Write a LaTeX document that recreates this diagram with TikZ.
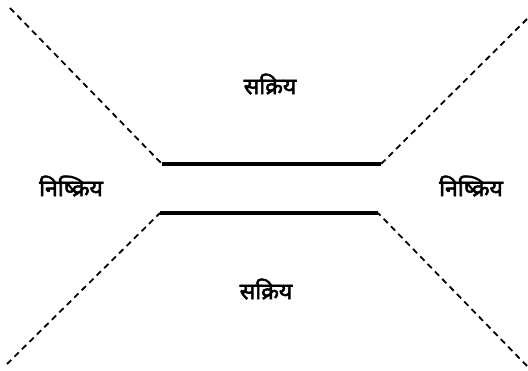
\documentclass[tikz,border=0pt]{standalone}
\usepackage{fontspec}
\newfontfamily\deva[Script=Devanagari,FakeBold=2.5]{Noto Sans}
\begin{document}
\begin{tikzpicture}[x=1pt,y=-1pt,
  lbl/.style={font=\deva\fontsize{23}{26}\selectfont, inner sep=0pt},
  dash line/.style={line width=1.8pt, dash pattern=on 6pt off 4.5pt},
  bar/.style={line width=3.2pt}]
\useasboundingbox (0,0) rectangle (528,370);
\coordinate (tl) at (10,8);
\coordinate (tr) at (527,19);
\coordinate (bl) at (7,364);
\coordinate (br) at (527,366);
\coordinate (a1) at (162,164);
\coordinate (a2) at (381,164);
\coordinate (b1) at (160,213);
\coordinate (b2) at (378,213);
\draw[bar] (a1) -- (a2);
\draw[bar] (b1) -- (b2);
\draw[dash line] (tl) -- (a1);
\draw[dash line] (tr) -- (a2);
\draw[dash line] (bl) -- (b1);
\draw[dash line] (br) -- (b2);
\node[lbl] (top) at (270,84) {सक्रिय};
\node[lbl] (bot) at (266,289) {सक्रिय};
\node[lbl] (left) at (71,186) {निष्क्रिय};
\node[lbl] (right) at (471,186) {निष्क्रिय};
\end{tikzpicture}
\end{document}
